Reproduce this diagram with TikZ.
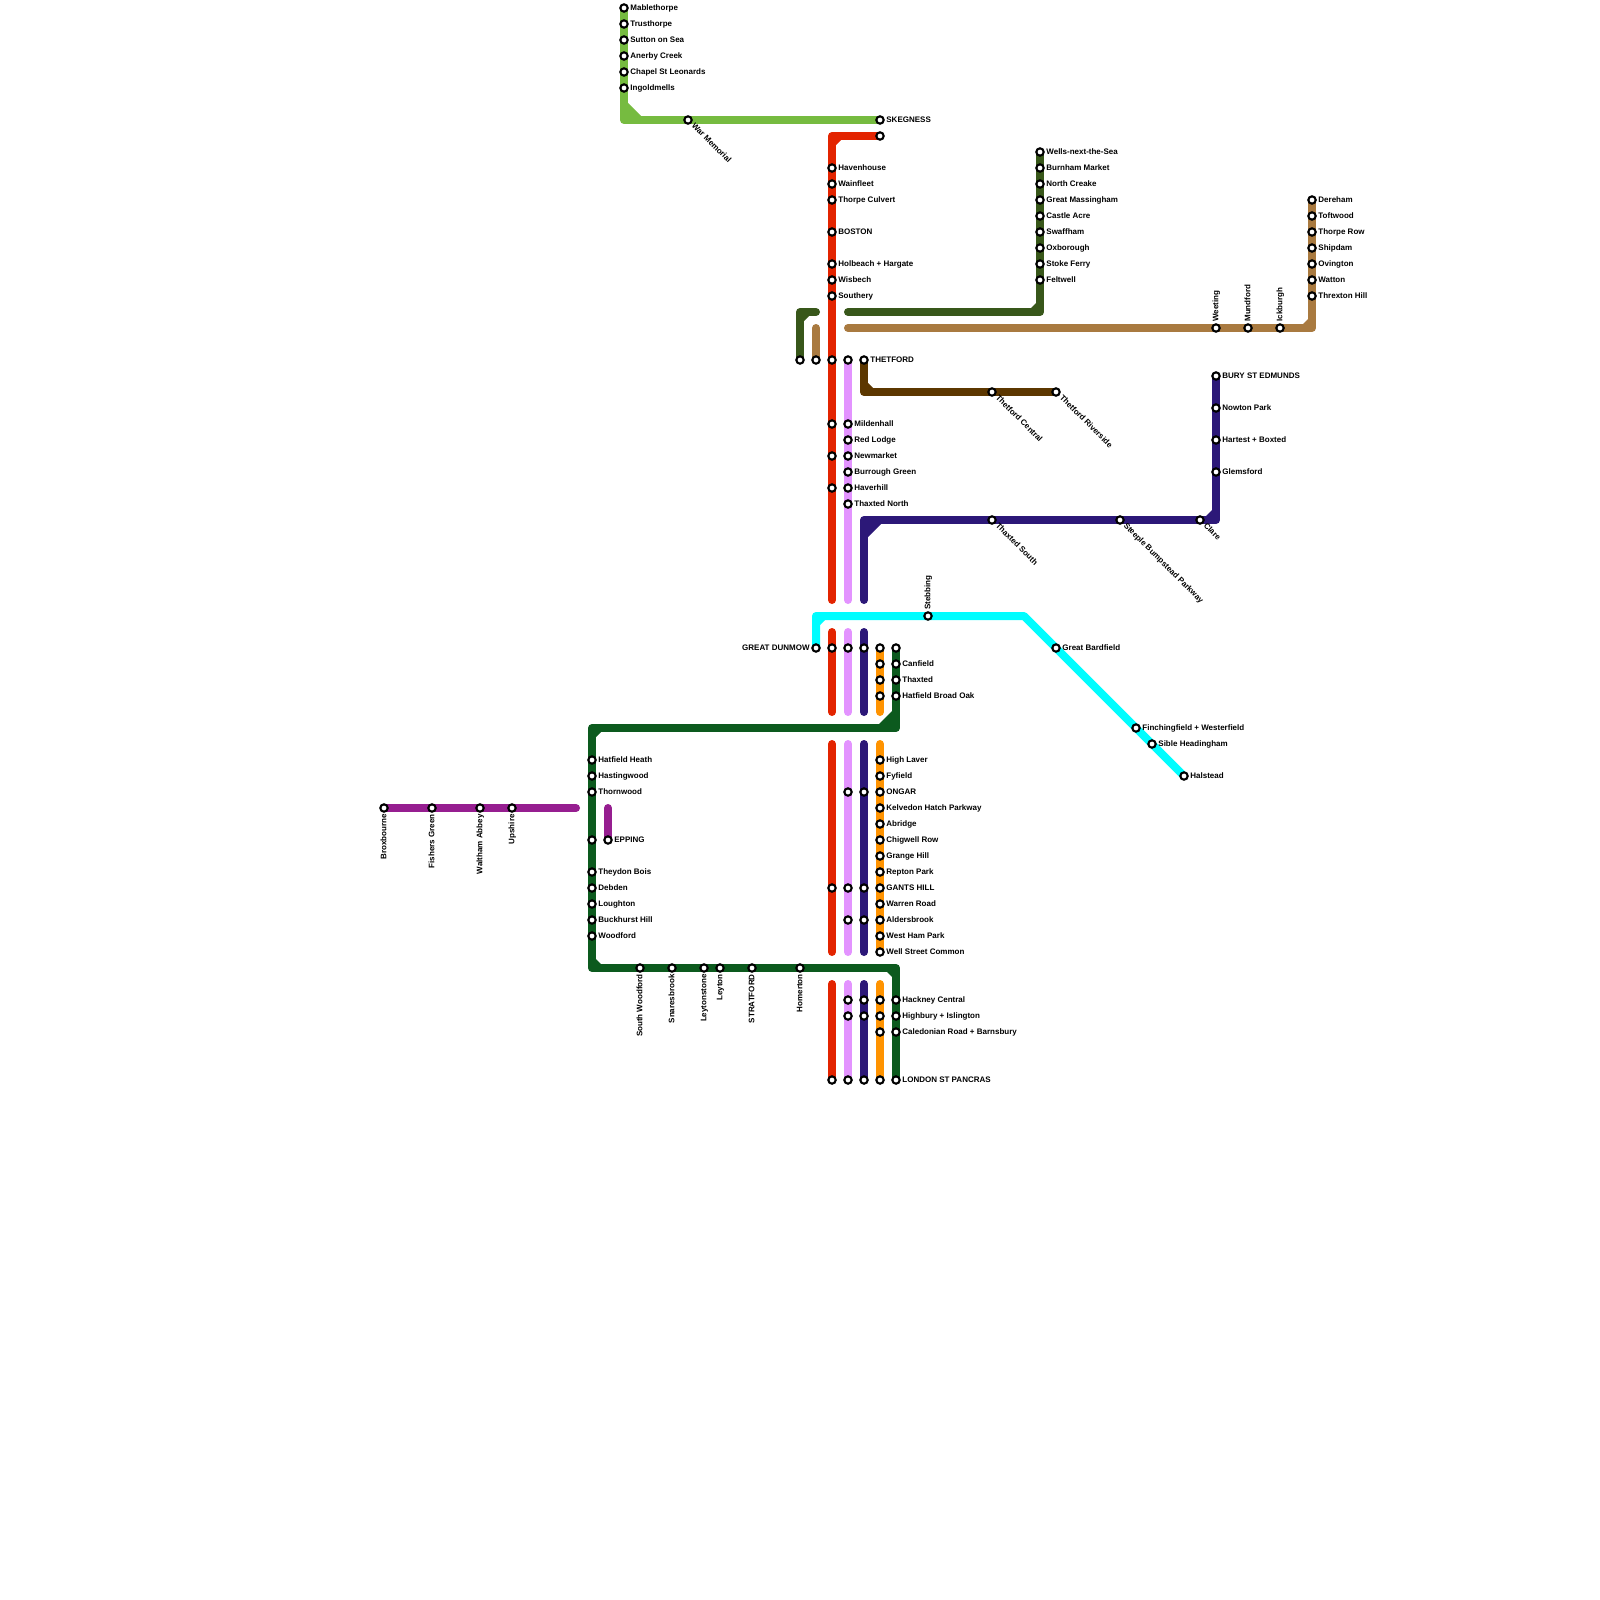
\documentclass[tikz,border=0pt]{standalone}
\usepackage{fontspec}
\setmainfont{Liberation Sans}
\usetikzlibrary{calc}
\pgfdeclarelayer{lines}
\pgfsetlayers{lines,main}
\definecolor{cLime}{HTML}{76BB40}
\definecolor{cRed}{HTML}{E32400}
\definecolor{cPink}{HTML}{E393FF}
\definecolor{cNavy}{HTML}{2C1878}
\definecolor{cOlive}{HTML}{38571A}
\definecolor{cTan}{HTML}{A97A40}
\definecolor{cBrown}{HTML}{5C3700}
\definecolor{cCyan}{HTML}{00FDFF}
\definecolor{cOrange}{HTML}{FF9300}
\definecolor{cForest}{HTML}{0C5A1E}
\definecolor{cPlum}{HTML}{961E90}
\tikzset{
  stn/.style={circle,draw=black,fill=white,line width=1.05pt,minimum size=3.7pt,inner sep=0pt,outer sep=0pt},
  lab/.style={font=\fontsize{4}{5}\selectfont\bfseries,inner sep=0pt,text=black},
  rail/.style={line width=4pt,line cap=round,line join=round},
}
% stations: plain, right label, left label, up label, down label, diagonal label
\newcommand\sP[3]{\node[stn] (#1) at (#2,#3) {};}
\newcommand\sR[4]{\sP{#1}{#2}{#3}\node[lab,anchor=base west] (#1-l) at (#2+6,#3+2.4) {#4};}
\newcommand\sL[4]{\sP{#1}{#2}{#3}\node[lab,anchor=base east] (#1-l) at (#2-6,#3+2.4) {#4};}
\newcommand\sU[4]{\sP{#1}{#2}{#3}\node[lab,rotate=90,anchor=base west] (#1-l) at (#2+2.3,#3-6) {#4};}
\newcommand\sD[4]{\sP{#1}{#2}{#3}\node[lab,rotate=90,anchor=base east] (#1-l) at (#2+2.3,#3+6) {#4};}
\newcommand\sX[4]{\sP{#1}{#2}{#3}\node[lab,rotate=-45,anchor=base west] (#1-l) at (#2+3,#3+6) {#4};}
% inner-corner chamfer: colour, corner, dx, dy, size
\newcommand\cham[5]{\fill[#1] (#2) -- ([shift={({#3*(4+#5)},{#4*4})}]#2) -- ([shift={({#3*4},{#4*(4+#5)})}]#2) -- cycle;}
\begin{document}
\begin{tikzpicture}[x=0.5pt,y=-0.5pt]
\useasboundingbox (0,0) rectangle (1600,1600);
% Lime
\sR{mable}{624}{8}{Mablethorpe}
\sR{trust}{624}{24}{Trusthorpe}
\sR{sutton}{624}{40}{Sutton on Sea}
\sR{anerby}{624}{56}{Anerby Creek}
\sR{chapel}{624}{72}{Chapel St Leonards}
\sR{ingold}{624}{88}{Ingoldmells}
\sX{warmem}{688}{120}{War Memorial}
\sR{skeg}{880}{120}{SKEGNESS}
\coordinate (cLimeA) at (624,120);
% Red
\sP{redtop}{880}{136}
\coordinate (cRedA) at (832,136);
\sR{haven}{832}{168}{Havenhouse}
\sR{wain}{832}{184}{Wainfleet}
\sR{thorpec}{832}{200}{Thorpe Culvert}
\sR{boston}{832}{232}{BOSTON}
\sR{holb}{832}{264}{Holbeach + Hargate}
\sR{wisb}{832}{280}{Wisbech}
\sR{south}{832}{296}{Southery}
\sP{rA}{832}{360}
\sP{rB}{832}{424}
\sP{rC}{832}{456}
\sP{rD}{832}{488}
\coordinate (rEnd1) at (832,600);
\coordinate (rTop2) at (832,632);
\sP{rE}{832}{648}
\coordinate (rEnd2) at (832,712);
\coordinate (rTop3) at (832,744);
\sP{rF}{832}{888}
\coordinate (rEnd3) at (832,952);
\coordinate (rTop4) at (832,984);
\sP{rG}{832}{1080}
% Olive and tan short pieces
\sP{olS}{800}{360}
\coordinate (olC) at (800,312);
\coordinate (olE) at (816,312);
\sP{taS}{816}{360}
\coordinate (taE) at (816,328);
% Pink
\sP{pA}{848}{360}
\sR{milden}{848}{424}{Mildenhall}
\sR{redl}{848}{440}{Red Lodge}
\sR{newm}{848}{456}{Newmarket}
\sR{burr}{848}{472}{Burrough Green}
\sR{haver}{848}{488}{Haverhill}
\sR{thaxn}{848}{504}{Thaxted North}
\coordinate (pEnd1) at (848,600);
\coordinate (pTop2) at (848,632);
\sP{pB}{848}{648}
\coordinate (pEnd2) at (848,712);
\coordinate (pTop3) at (848,744);
\sP{pC}{848}{792}
\sP{pD}{848}{888}
\sP{pE}{848}{920}
\coordinate (pEnd3) at (848,952);
\coordinate (pTop4) at (848,984);
\sP{pF}{848}{1000}
\sP{pG}{848}{1016}
\sP{pH}{848}{1080}
% Brown
\sR{thet}{864}{360}{THETFORD}
\coordinate (brC) at (864,392);
\sX{thetc}{992}{392}{Thetford Central}
\sX{thetr}{1056}{392}{Thetford Riverside}
% Navy
\coordinate (nEnd1) at (864,600);
\coordinate (nC) at (864,520);
\sX{thaxs}{992}{520}{Thaxted South}
\sX{steep}{1120}{520}{Steeple Bumpstead Parkway}
\sX{clare}{1200}{520}{Clare}
\coordinate (nD) at (1216,520);
\sR{glems}{1216}{472}{Glemsford}
\sR{hart}{1216}{440}{Hartest + Boxted}
\sR{nowt}{1216}{408}{Nowton Park}
\sR{bury}{1216}{376}{BURY ST EDMUNDS}
\coordinate (nTop2) at (864,632);
\sP{nB}{864}{648}
\coordinate (nEnd2) at (864,712);
\coordinate (nTop3) at (864,744);
\sP{nCc}{864}{792}
\sP{nDd}{864}{888}
\sP{nE}{864}{920}
\coordinate (nEnd3) at (864,952);
\coordinate (nTop4) at (864,984);
\sP{nF}{864}{1000}
\sP{nG}{864}{1016}
\sP{nH}{864}{1080}
% Cyan
\sL{dunmow}{816}{648}{GREAT DUNMOW}
\coordinate (cyA) at (816,616);
\sU{stebb}{928}{616}{Stebbing}
\coordinate (cyB) at (1024,616);
\sR{bard}{1056}{648}{Great Bardfield}
\sR{finch}{1136}{728}{Finchingfield + Westerfield}
\sR{sible}{1152}{744}{Sible Headingham}
\sR{halst}{1184}{776}{Halstead}
% Orange
\sP{oA}{880}{648}
\sP{oB}{880}{664}
\sP{oC}{880}{680}
\sP{oD}{880}{696}
\coordinate (oEnd2) at (880,712);
\coordinate (oTop3) at (880,744);
\sR{hlaver}{880}{760}{High Laver}
\sR{fyf}{880}{776}{Fyfield}
\sR{ongar}{880}{792}{ONGAR}
\sR{kelv}{880}{808}{Kelvedon Hatch Parkway}
\sR{abr}{880}{824}{Abridge}
\sR{chig}{880}{840}{Chigwell Row}
\sR{grange}{880}{856}{Grange Hill}
\sR{rept}{880}{872}{Repton Park}
\sR{gants}{880}{888}{GANTS HILL}
\sR{warren}{880}{904}{Warren Road}
\sR{alder}{880}{920}{Aldersbrook}
\sR{wham}{880}{936}{West Ham Park}
\sR{wells}{880}{952}{Well Street Common}
\coordinate (oTop4) at (880,984);
\sP{oE}{880}{1000}
\sP{oF}{880}{1016}
\sP{oG}{880}{1032}
\sP{oH}{880}{1080}
% Forest
\sP{fA}{896}{648}
\sR{canf}{896}{664}{Canfield}
\sR{thaxt}{896}{680}{Thaxted}
\sR{hatb}{896}{696}{Hatfield Broad Oak}
\coordinate (fC1) at (896,728);
\coordinate (fC2) at (592,728);
\sR{hath}{592}{760}{Hatfield Heath}
\sR{hast}{592}{776}{Hastingwood}
\sR{thorn}{592}{792}{Thornwood}
\sP{fB}{592}{840}
\sR{theyd}{592}{872}{Theydon Bois}
\sR{debd}{592}{888}{Debden}
\sR{lough}{592}{904}{Loughton}
\sR{buck}{592}{920}{Buckhurst Hill}
\sR{woodf}{592}{936}{Woodford}
\coordinate (fC3) at (592,968);
\sD{swood}{640}{968}{South Woodford}
\sD{snar}{672}{968}{Snaresbrook}
\sD{leyts}{704}{968}{Leytonstone}
\sD{leyt}{720}{968}{Leyton}
\sD{strat}{752}{968}{STRATFORD}
\sD{homer}{800}{968}{Homerton}
\coordinate (fC4) at (896,968);
\sR{hack}{896}{1000}{Hackney Central}
\sR{high}{896}{1016}{Highbury + Islington}
\sR{cale}{896}{1032}{Caledonian Road + Barnsbury}
\sR{lond}{896}{1080}{LONDON ST PANCRAS}
% Plum
\sD{brox}{384}{808}{Broxbourne}
\sD{fish}{432}{808}{Fishers Green}
\sD{walt}{480}{808}{Waltham Abbey}
\sD{upsh}{512}{808}{Upshire}
\coordinate (plE) at (576,808);
\coordinate (plT) at (608,808);
\sR{epp}{608}{840}{EPPING}
% Olive main
\coordinate (olM) at (848,312);
\coordinate (olD) at (1040,312);
\sR{wnts}{1040}{152}{Wells-next-the-Sea}
\sR{burn}{1040}{168}{Burnham Market}
\sR{ncre}{1040}{184}{North Creake}
\sR{gmas}{1040}{200}{Great Massingham}
\sR{cast}{1040}{216}{Castle Acre}
\sR{swaf}{1040}{232}{Swaffham}
\sR{oxb}{1040}{248}{Oxborough}
\sR{stok}{1040}{264}{Stoke Ferry}
\sR{felt}{1040}{280}{Feltwell}
% Tan main
\coordinate (taM) at (848,328);
\sU{weet}{1216}{328}{Weeting}
\sU{mund}{1248}{328}{Mundford}
\sU{ick}{1280}{328}{Ickburgh}
\coordinate (taD) at (1312,328);
\sR{dere}{1312}{200}{Dereham}
\sR{toft}{1312}{216}{Toftwood}
\sR{thrw}{1312}{232}{Thorpe Row}
\sR{ship}{1312}{248}{Shipdam}
\sR{ovin}{1312}{264}{Ovington}
\sR{watt}{1312}{280}{Watton}
\sR{thrx}{1312}{296}{Threxton Hill}

\begin{pgfonlayer}{lines}
\draw[rail,cLime] (mable.center) -- (cLimeA) -- (skeg.center);
\cham{cLime}{cLimeA}{1}{-1}{13}
\draw[rail,cRed] (redtop.center) -- (cRedA) -- (rEnd1);
\cham{cRed}{cRedA}{1}{1}{5}
\draw[rail,cRed] (rTop2) -- (rEnd2);
\draw[rail,cRed] (rTop3) -- (rEnd3);
\draw[rail,cRed] (rTop4) -- (rG.center);
\draw[rail,cOlive] (olS.center) -- (olC) -- (olE);
\cham{cOlive}{olC}{1}{1}{5}
\draw[rail,cTan] (taS.center) -- (taE);
\draw[rail,cPink] (pA.center) -- (pEnd1);
\draw[rail,cPink] (pTop2) -- (pEnd2);
\draw[rail,cPink] (pTop3) -- (pEnd3);
\draw[rail,cPink] (pTop4) -- (pH.center);
\draw[rail,cBrown] (thet.center) -- (brC) -- (thetr.center);
\cham{cBrown}{brC}{1}{-1}{5}
\draw[rail,cNavy] (nEnd1) -- (nC) -- (nD) -- (bury.center);
\cham{cNavy}{nC}{1}{1}{13}
\cham{cNavy}{nD}{-1}{-1}{6}
\draw[rail,cNavy] (nTop2) -- (nEnd2);
\draw[rail,cNavy] (nTop3) -- (nEnd3);
\draw[rail,cNavy] (nTop4) -- (nH.center);
\draw[rail,cCyan] (dunmow.center) -- (cyA) -- (cyB) -- (halst.center);
\cham{cCyan}{cyA}{1}{1}{5}
\draw[rail,cOrange] (oA.center) -- (oEnd2);
\draw[rail,cOrange] (oTop3) -- (wells.center);
\draw[rail,cOrange] (oTop4) -- (oH.center);
\draw[rail,cForest] (fA.center) -- (fC1) -- (fC2) -- (fC3) -- (fC4) -- (lond.center);
\cham{cForest}{fC1}{-1}{-1}{13}
\cham{cForest}{fC2}{1}{1}{5}
\cham{cForest}{fC3}{1}{-1}{5}
\cham{cForest}{fC4}{-1}{1}{5}
\draw[rail,cPlum] (brox.center) -- (plE);
\draw[rail,cPlum] (plT) -- (epp.center);
\draw[rail,cOlive] (olM) -- (olD) -- (wnts.center);
\cham{cOlive}{olD}{-1}{-1}{5}
\draw[rail,cTan] (taM) -- (taD) -- (dere.center);
\cham{cTan}{taD}{-1}{-1}{5}
\end{pgfonlayer}
\end{tikzpicture}
\end{document}
